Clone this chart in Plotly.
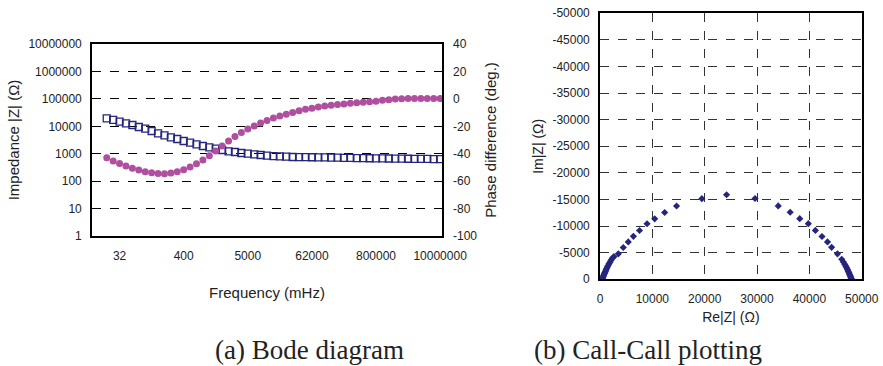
import plotly.graph_objects as go

# ---------------- Bode diagram data ----------------
freq_mhz = ["19.3", "24.9", "32", "41.2", "53.1", "68.4", "88.1", "113", "146", "188",
            "242", "312", "400", "518", "667", "859", "1106", "1424", "1834", "2363",
            "3043", "3920", "5000", "6502", "8374", "10784", "13890", "17890", "23040", "29680",
            "38220", "49230", "62000", "81660", "105200", "135400", "174500", "224700", "289400", "372700",
            "480100", "618300", "800000", "1025600", "1321000", "1701000", "2191000", "2822000", "3634000", "4681000",
            "6029000", "7765000", "10000000"]
freq_ticks = ["32", "400", "5000", "62000", "800000", "10000000"]

impedance = [19600, 17100, 14800, 12900, 11200, 9460, 8220, 6750, 5540, 4690,
             3960, 3440, 2910, 2530, 2200, 1910, 1710, 1520, 1360, 1220,
             1150, 1060, 1000, 945, 895, 850, 820, 800, 775, 755,
             750, 745, 740, 735, 728, 720, 712, 705, 698, 692,
             686, 680, 675, 670, 665, 660, 656, 652, 648, 644,
             640, 637, 634]

phase = [-43.0, -45.3, -47.2, -49.0, -50.6, -52.0, -53.2, -54.0, -54.5, -54.6,
         -54.2, -53.2, -51.8, -49.8, -47.4, -44.6, -41.6, -38.0, -34.4, -30.8,
         -27.5, -24.6, -22.0, -19.7, -17.6, -15.7, -14.0, -12.5, -11.1, -9.8,
         -8.6, -7.6, -6.7, -5.9, -5.2, -4.6, -4.1, -3.6, -3.2, -2.8,
         -2.4, -2.0, -1.6, -1.0, -0.5, -0.1, 0.2, 0.3, 0.3, 0.3,
         0.3, 0.3, 0.3]

imp_tickvals = [1, 10, 100, 1000, 10000, 100000, 1000000, 10000000]
imp_ticktext = ["1", "10", "100", "1000", "10000", "100000", "1000000", "10000000"]
phase_tickvals = [-100, -80, -60, -40, -20, 0, 20, 40]
phase_ticktext = ["-100", "-80", "-60", "-40", "-20", "0", "20", "40"]

# ---------------- Nyquist (Call-Call) data ----------------
re_z = [450, 520, 600, 680, 760, 850, 940, 1040, 1150, 1270, 1400, 1550, 1720, 1900, 2100, 2350, 2650,
        3500, 4450, 5400, 6380, 7550, 8990, 10450, 12350, 14630, 19460,
        24180, 29620,
        34050, 36330, 38160, 39800, 41150, 42410, 43460, 44250, 45370, 46180,
        46500, 46750, 46950, 47120, 47280, 47420, 47550, 47670, 47780, 47870, 47950, 48020, 48060]
im_z = [-50, -250, -450, -650, -850, -1070, -1290, -1520, -1770, -2030, -2300, -2590, -2900, -3220, -3560, -3950, -4250,
        -4780, -5980, -7030, -8070, -9180, -10440, -11360, -12560, -13770, -15160,
        -15890, -15190,
        -13800, -12600, -11390, -10450, -9190, -8050, -7020, -6010, -4780, -3760,
        -3250, -2850, -2480, -2150, -1830, -1530, -1240, -960, -700, -460, -250, -80, 0]

re_tickvals = [0, 10000, 20000, 30000, 40000, 50000]
im_tickvals = [0, -5000, -10000, -15000, -20000, -25000, -30000, -35000, -40000, -45000, -50000]
im_ticktext = ["0", "-5000", "-10000", "-15000", "-20000", "-25000", "-30000", "-35000", "-40000", "-45000", "-50000"]

FONT = "Liberation Sans, Arial, sans-serif"
NAVY = "#25257d"
MAG = "#b04f9f"
TXT = "#222"

fig = go.Figure()

fig.add_trace(go.Scatter(
    x=freq_mhz, y=impedance, mode="markers", xaxis="x", yaxis="y",
    marker=dict(symbol="square-open", size=7, color=NAVY, line=dict(width=1.3, color=NAVY)),
    showlegend=False))

fig.add_trace(go.Scatter(
    x=freq_mhz, y=phase, mode="markers", xaxis="x", yaxis="y2",
    marker=dict(symbol="circle", size=7, color=MAG),
    showlegend=False))

fig.add_trace(go.Scatter(
    x=re_z, y=im_z, mode="markers", xaxis="x2", yaxis="y3",
    marker=dict(symbol="diamond", size=5.5, color=NAVY),
    showlegend=False))

axis_common = dict(showline=True, linecolor="black", linewidth=1.6, mirror=True,
                   zeroline=False, ticks="", automargin=False,
                   tickfont=dict(family=FONT, size=12, color=TXT))

fig.update_layout(
    width=883, height=366,
    margin=dict(l=0, r=0, t=0, b=0),
    paper_bgcolor="white", plot_bgcolor="white",
    font=dict(family=FONT, color=TXT),
    xaxis=dict(
        domain=[0.1042, 0.5006], anchor="y", type="category",
        categoryorder="array", categoryarray=freq_mhz,
        range=[-2.3, 52.3], tickvals=freq_ticks, ticktext=freq_ticks,
        showgrid=False, ticklabelstandoff=8,
        title=dict(text="Frequency (mHz)", font=dict(family=FONT, size=15, color=TXT), standoff=26),
        **axis_common),
    yaxis=dict(
        domain=[0.356, 0.879], anchor="x", type="log", range=[0, 7],
        tickvals=imp_tickvals, ticktext=imp_ticktext,
        showgrid=True, gridcolor="black", gridwidth=1, griddash="dash",
        ticklabelstandoff=6,
        title=dict(text="Impedance |Z| (Ω)", font=dict(family=FONT, size=15, color=TXT), standoff=5),
        **axis_common),
    yaxis2=dict(
        overlaying="y", anchor="x", side="right", range=[-100, 40],
        tickvals=phase_tickvals, ticktext=phase_ticktext, showgrid=False,
        showline=False, zeroline=False, ticks="", automargin=False,
        ticklabelstandoff=10,
        tickfont=dict(family=FONT, size=12, color=TXT),
        title=dict(text="Phase difference (deg.)", font=dict(family=FONT, size=15, color=TXT), standoff=9)),
    xaxis2=dict(
        domain=[0.6795, 0.9759], anchor="y3", range=[0, 50000],
        tickvals=re_tickvals, ticktext=[str(v) for v in re_tickvals],
        showgrid=True, gridcolor="#333", gridwidth=1, griddash="dash",
        ticklabelstandoff=8,
        title=dict(text="Re|Z| (Ω)", font=dict(family=FONT, size=14, color=TXT), standoff=7),
        **axis_common),
    yaxis3=dict(
        domain=[0.2369, 0.9637], anchor="x2", range=[0, -50000],
        tickvals=im_tickvals, ticktext=im_ticktext,
        showgrid=True, gridcolor="#333", gridwidth=1, griddash="dash",
        ticklabelstandoff=6,
        title=dict(text="Im|Z| (Ω)", font=dict(family=FONT, size=14, color=TXT), standoff=6),
        **axis_common),
    annotations=[
        dict(text="(a) Bode diagram", x=0.351, y=0.043, xref="paper", yref="paper",
             showarrow=False, xanchor="center", yanchor="middle",
             font=dict(family="Liberation Serif, Times New Roman, serif", size=27, color=TXT)),
        dict(text="(b) Call-Call plotting", x=0.734, y=0.043, xref="paper", yref="paper",
             showarrow=False, xanchor="center", yanchor="middle",
             font=dict(family="Liberation Serif, Times New Roman, serif", size=27, color=TXT)),
    ],
)

fig.write_html("out.html")
